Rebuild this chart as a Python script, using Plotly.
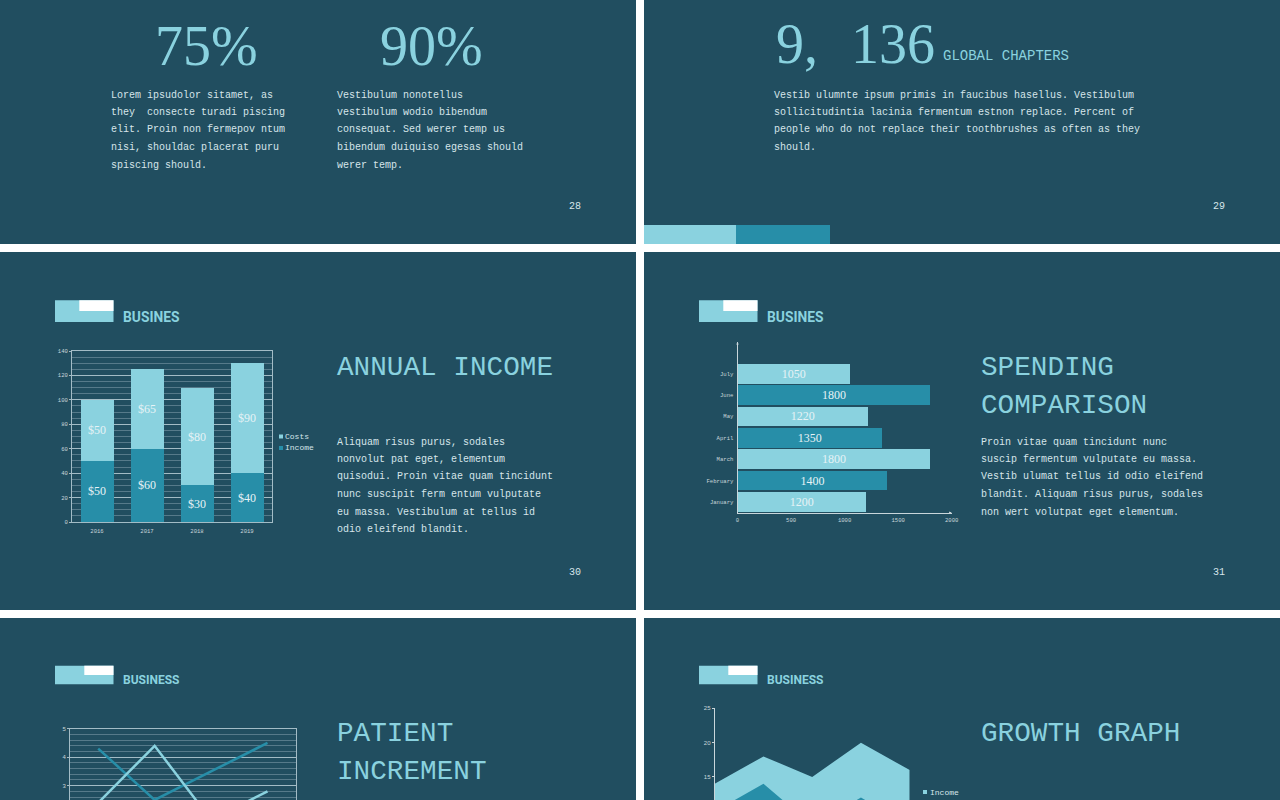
import plotly.graph_objects as go

# ---- data ----
years = ["2016", "2017", "2018", "2019"]
income_vals = [50, 60, 30, 40]
costs_vals = [50, 65, 80, 90]
months = ["January", "February", "March", "April", "May", "June", "July"]
spend_vals = [1200, 1400, 1800, 1350, 1220, 1800, 1050]
patient_cats = ["A", "B", "C", "D"]
patient_dark = [4.3, 2.5, 3.5, 4.5]
patient_light = [2.4, 4.4, 1.8, 2.8]
growth_cats = ["1", "2", "3", "4", "5"]
growth_income = [14, 18, 15, 20, 16]
growth_costs = [10, 14, 8, 12, 8]

# ---- style ----
W, H = 1280, 800
BG = "#214E60"
LIGHT = "#8AD2DF"
DARK = "#278EA8"
BODY = "#D6E5EA"
TICK = "#C9D6DB"
GRID = "#A3BCC6"
MINOR = "#567A8A"
MONO = "Liberation Mono"
SERIF = "Liberation Serif"
SANS = "Liberation Sans"


def px(x):
    return x / W


def py(y):
    return 1 - y / H


def dom_x(a, b):
    return [px(a), px(b)]


def dom_y(top, bottom):
    return [py(bottom), py(top)]


annotations = []
shapes = []


def text(x, y, s, size, color=BODY, font=MONO, anchor="left", bold=False):
    annotations.append(dict(
        x=px(x), y=py(y), xref="paper", yref="paper", text=f"<b>{s}</b>" if bold else s,
        showarrow=False, xanchor=anchor, yanchor="middle", borderpad=0, borderwidth=0,
        font=dict(family=font, size=size, color=color)))


def rect(x0, y0, x1, y1, color):
    shapes.append(dict(type="rect", xref="paper", yref="paper", layer="below",
                       x0=px(x0), x1=px(x1), y0=py(y1), y1=py(y0),
                       fillcolor=color, line=dict(width=0)))


def body(x, y0, lines):
    for i, line in enumerate(lines):
        text(x, y0 + 1 + i * 17.5, line.replace("  ", "\u00a0 "), 10)


# slides
for s in [(0, 0, 636, 244), (644, 0, 1280, 244), (0, 252, 636, 610),
          (644, 252, 1280, 610), (0, 618, 636, 800), (644, 618, 1280, 800)]:
    rect(*s, BG)

# strip on slide 29
rect(644, 225, 736, 244, LIGHT)
rect(736, 225, 830, 244, DARK)

# logos
for dx, label, top, mid, bottom, wl, tx, ty, fs in [
    (0, "BUSINES", 300.3, 311, 322, 79.3, 123, 317, 13.8),
    (644, "BUSINES", 300.3, 311, 322, 79.3, 123, 317, 13.8),
    (0, "BUSINESS", 665.7, 675, 684.3, 84.3, 122.5, 680, 12),
    (644, "BUSINESS", 665.7, 675, 684.3, 84.3, 122.5, 680, 12),
]:
    rect(55 + dx, top, 113.5 + dx, bottom, LIGHT)
    rect(wl + dx, top, 113.5 + dx, mid, "#FFFFFF")
    text(tx + dx, ty, label, fs, LIGHT, "Roboto", bold=True)

# slide 28
text(206, 46, "75%", 56, LIGHT, SERIF, "center")
text(431, 46, "90%", 56, LIGHT, SERIF, "center")
body(111, 94, ["Lorem ipsudolor sitamet, as", "they  consecte turadi piscing",
               "elit. Proin non fermepov ntum", "nisi, shouldac placerat puru",
               "spiscing should."])
body(337, 94, ["Vestibulum nonotellus", "vestibulum wodio bibendum",
               "consequat. Sed werer temp us", "bibendum duiquiso egesas should",
               "werer temp."])
text(575, 206, "28", 10, BODY, MONO, "center")

# slide 29
text(776, 44, "9,", 56, LIGHT, SERIF)
text(893, 44, "136", 56, LIGHT, SERIF, "center")
text(943, 56, "GLOBAL CHAPTERS", 14, LIGHT)
body(774, 94, ["Vestib ulumnte ipsum primis in faucibus hasellus. Vestibulum",
               "sollicitudintia lacinia fermentum estnon replace. Percent of",
               "people who do not replace their toothbrushes as often as they",
               "should."])
text(1219, 206, "29", 10, BODY, MONO, "center")

# slide 30
text(337, 367.5, "ANNUAL INCOME", 27.7, LIGHT)
body(337, 441, ["Aliquam risus purus, sodales", "nonvolut pat eget, elementum",
                "quisodui. Proin vitae quam tincidunt", "nunc suscipit ferm entum vulputate",
                "eu massa. Vestibulum at tellus id", "odio eleifend blandit."])
text(575, 572, "30", 10, BODY, MONO, "center")
rect(279, 434.5, 283, 438.5, LIGHT)
rect(279, 446, 283, 450, DARK)
text(284.5, 436.5, "Costs", 8, BODY)
text(285, 447.5, "Income", 8, BODY)

# slide 31
text(981, 367.5, "SPENDING", 27.7, LIGHT)
text(981, 405.5, "COMPARISON", 27.7, LIGHT)
body(981, 441, ["Proin vitae quam tincidunt nunc", "suscip fermentum vulputate eu massa.",
                "Vestib ulumat tellus id odio eleifend", "blandit. Aliquam risus purus, sodales",
                "non wert volutpat eget elementum."])
text(1219, 572, "31", 10, BODY, MONO, "center")

# slide 32 / 33
text(337, 733.5, "PATIENT", 27.7, LIGHT)
text(337, 771.5, "INCREMENT", 27.7, LIGHT)
text(981, 733.5, "GROWTH GRAPH", 27.7, LIGHT)
rect(923, 790, 927, 794, LIGHT)
text(929.5, 792.5, "Income", 8, BODY)

fig = go.Figure()

# chart 1: stacked bars
for name, vals, col in [("Income", income_vals, DARK), ("Costs", costs_vals, LIGHT)]:
    fig.add_trace(go.Bar(x=years, y=vals, name=name, marker=dict(color=col, line=dict(width=0)),
                         width=0.66, texttemplate="$%{y}", textposition="inside",
                         insidetextanchor="middle", textangle=0, constraintext="none",
                         textfont=dict(family=SERIF, size=12, color="#E6F3F6"),
                         xaxis="x", yaxis="y", showlegend=False))

# chart 2: horizontal bars
fig.add_trace(go.Bar(y=months, x=spend_vals, orientation="h", width=0.92,
                     marker=dict(color=[LIGHT if i % 2 == 0 else DARK for i in range(len(months))],
                                 line=dict(width=0)),
                     texttemplate="%{x}", textposition="inside", insidetextanchor="middle",
                     textangle=0, constraintext="none",
                     textfont=dict(family=SERIF, size=12, color="#E6F3F6"),
                     xaxis="x2", yaxis="y2", showlegend=False))

# chart 3: lines
for name, vals, col in [("Series 1", patient_dark, DARK), ("Series 2", patient_light, LIGHT)]:
    fig.add_trace(go.Scatter(x=patient_cats, y=vals, mode="lines", name=name,
                             line=dict(color=col, width=2.5), xaxis="x3", yaxis="y3", showlegend=False))

# chart 4: areas
for name, vals, col in [("Income", growth_income, LIGHT), ("Costs", growth_costs, DARK)]:
    fig.add_trace(go.Scatter(x=growth_cats, y=vals, mode="lines", name=name, fill="tozeroy",
                             fillcolor=col, line=dict(color=col, width=0), xaxis="x4", yaxis="y4",
                             showlegend=False))

# arrowheads on the spending chart axes
for ann in [dict(x=2000, y=-0.5, ax=-4, ay=0), dict(x=0, y=7.48, ax=0, ay=4)]:
    annotations.append(dict(xref="x2", yref="y2", text="", showarrow=True, arrowhead=2,
                            arrowsize=0.5, arrowwidth=1, arrowcolor=TICK, **ann))

tickf = dict(family=MONO, size=5.6, color=TICK)
tickf_sans = dict(family=SANS, size=6, color=TICK)

fig.update_layout(
    width=W, height=H, margin=dict(l=0, r=0, t=0, b=0, pad=0, autoexpand=False),
    autosize=False,
    paper_bgcolor="#FFFFFF", plot_bgcolor="rgba(0,0,0,0)",
    barmode="stack", showlegend=False,
    annotations=annotations, shapes=shapes,
    xaxis=dict(domain=dom_x(72, 272), anchor="y", type="category", range=[-0.5, 3.5],
               showgrid=False, showline=True, mirror=True, linecolor=GRID, linewidth=1,
               ticks="", tickfont=tickf, ticklabelstandoff=3),
    yaxis=dict(domain=dom_y(351, 522), anchor="x", range=[0, 140], dtick=20,
               showgrid=True, gridcolor=GRID, gridwidth=1,
               minor=dict(dtick=5, showgrid=True, gridcolor=MINOR, gridwidth=1),
               showline=True, mirror=True, linecolor=GRID, linewidth=1,
               ticks="outside", ticklen=2, tickcolor=GRID, tickfont=tickf, zeroline=False),
    xaxis2=dict(domain=dom_x(737.5, 951.7), anchor="y2", range=[0, 2000], dtick=500,
                showgrid=False, showline=True, linecolor=TICK, linewidth=1, zeroline=False,
                ticks="", tickfont=tickf, ticklabelstandoff=2),
    yaxis2=dict(domain=dom_y(342, 512.7), anchor="x2", type="category", categoryorder="array",
                categoryarray=months, range=[-0.5, 7.48], showgrid=False, showline=True,
                linecolor=TICK, linewidth=1, ticks="", tickfont=tickf, ticklabelstandoff=2),
    xaxis3=dict(domain=dom_x(70, 295.7), anchor="y3", type="category", range=[-0.5, 3.5],
                showgrid=False, showline=True, mirror=True, linecolor=GRID, linewidth=1,
                showticklabels=False, ticks=""),
    yaxis3=dict(domain=dom_y(728.7, 800), anchor="x3", range=[2.498, 5], dtick=1, tick0=0,
                showgrid=True, gridcolor=GRID, gridwidth=1,
                minor=dict(dtick=0.2, showgrid=True, gridcolor=MINOR, gridwidth=1),
                showline=True, mirror=True, linecolor=GRID, linewidth=1,
                ticks="outside", ticklen=2, tickcolor=GRID, tickfont=tickf_sans, zeroline=False),
    xaxis4=dict(domain=dom_x(714.7, 909.7), anchor="y4", type="category", range=[0, 4],
                showgrid=False, showline=False, showticklabels=False, ticks=""),
    yaxis4=dict(domain=dom_y(708.3, 800), anchor="x4", range=[11.65, 25], dtick=5, tick0=0,
                showgrid=False, showline=True, linecolor=TICK, linewidth=1, zeroline=False,
                ticks="outside", ticklen=2, tickcolor=TICK, tickfont=tickf_sans),
)

fig.write_html("out.html", config={"displayModeBar": False},
               post_script="document.body.style.margin='0';document.body.style.overflow='hidden';")
